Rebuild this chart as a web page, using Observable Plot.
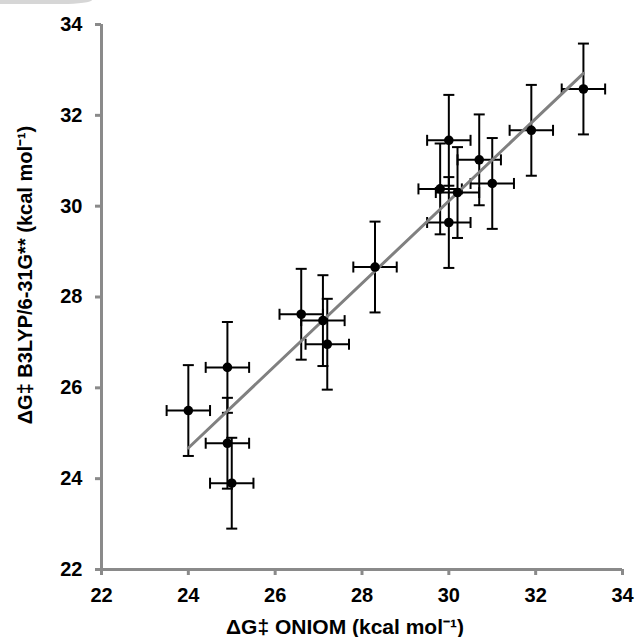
<!DOCTYPE html>
<html>
<head>
<meta charset="utf-8">
<script src="https://cdn.jsdelivr.net/npm/d3@7"></script>
<script src="https://cdn.jsdelivr.net/npm/@observablehq/plot@0.6"></script>
<style>
  html, body { margin: 0; padding: 0; background: #fff; }
  #wrap { position: relative; width: 637px; height: 637px; }
  #corner { position: absolute; left: 0; top: 0; width: 92px; height: 4px; background: #d6d6d6; border-bottom-right-radius: 30px 4px; }
</style>
</head>
<body>
<div id="wrap"><div id="corner"></div></div>
<script>
// ΔG‡ ONIOM (x) vs ΔG‡ B3LYP/6-31G** (y), kcal/mol
const oniom = [24.0, 24.9, 24.9, 25.0, 26.6, 27.1, 27.2, 28.3, 29.8, 30.0, 30.0, 30.2, 30.7, 31.0, 31.9, 33.1];
const b3lyp = [25.5, 26.45, 24.78, 23.9, 27.62, 27.48, 26.96, 28.66, 30.38, 31.45, 29.64, 30.3, 31.02, 30.5, 31.67, 32.58];
const xError = 0.5;
const yError = 1.0;
const axisTicks = [22, 24, 26, 28, 30, 32, 34];
const xTitle = "ΔG‡ ONIOM (kcal mol⁻¹)";
const yTitle = "ΔG‡ B3LYP/6-31G** (kcal mol⁻¹)";

const data = oniom.map((x, i) => ({x, y: b3lyp[i]}));

const hcap = {draw(ctx) { ctx.moveTo(-5.5, 0); ctx.lineTo(5.5, 0); }};
const vcap = {draw(ctx) { ctx.moveTo(0, -5.5); ctx.lineTo(0, 5.5); }};

const axisGray = "#8a8a8a";
const font = "'Liberation Sans', Arial, sans-serif";

const chart = Plot.plot({
  width: 637,
  height: 637,
  marginLeft: 101,
  marginRight: 15,
  marginTop: 24,
  marginBottom: 68,
  style: {fontFamily: font, fontSize: "20px", fontWeight: "bold", color: "black", background: "transparent"},
  x: {domain: [22, 34]},
  y: {domain: [22, 34]},
  marks: [
    Plot.axisX({ticks: axisTicks, tickSize: 6, tickPadding: 12, stroke: axisGray, strokeWidth: 3, fill: "black", label: null, fontSize: 20}),
    Plot.axisY({ticks: axisTicks, tickSize: 6, tickPadding: 13, stroke: axisGray, strokeWidth: 3, fill: "black", label: null, fontSize: 20}),
    Plot.ruleX([22], {y1: 22, y2: 34, stroke: axisGray, strokeWidth: 3}),
    Plot.ruleY([22], {x1: 22, x2: 34, stroke: axisGray, strokeWidth: 3}),
    // error bars
    Plot.link(data, {x1: d => d.x, x2: d => d.x, y1: d => d.y - yError, y2: d => d.y + yError, stroke: "black", strokeWidth: 2}),
    Plot.link(data, {x1: d => d.x - xError, x2: d => d.x + xError, y1: d => d.y, y2: d => d.y, stroke: "black", strokeWidth: 2}),
    Plot.dot(data, {x: d => d.x, y: d => d.y + yError, symbol: hcap, r: 5, stroke: "black", strokeWidth: 2, fill: "none"}),
    Plot.dot(data, {x: d => d.x, y: d => d.y - yError, symbol: hcap, r: 5, stroke: "black", strokeWidth: 2, fill: "none"}),
    Plot.dot(data, {x: d => d.x + xError, y: d => d.y, symbol: vcap, r: 5, stroke: "black", strokeWidth: 2, fill: "none"}),
    Plot.dot(data, {x: d => d.x - xError, y: d => d.y, symbol: vcap, r: 5, stroke: "black", strokeWidth: 2, fill: "none"}),
    // trendline
    Plot.linearRegressionY(data, {x: "x", y: "y", ci: 0, stroke: "#808080", strokeWidth: 3}),
    // markers
    Plot.dot(data, {x: "x", y: "y", r: 4.8, fill: "black", stroke: "none"}),
    // axis titles
    Plot.text([xTitle], {text: d => d, frameAnchor: "bottom", textAnchor: "middle", lineAnchor: "middle", dx: -17, dy: 58, fontSize: 21, fontWeight: "bold", fill: "black"}),
    Plot.text([yTitle], {text: d => d, frameAnchor: "left", textAnchor: "middle", lineAnchor: "middle", dx: -76, dy: -22, rotate: -90, fontSize: 20, fontWeight: "bold", fill: "black"})
  ]
});
document.getElementById("wrap").appendChild(chart);
</script>
</body>
</html>
